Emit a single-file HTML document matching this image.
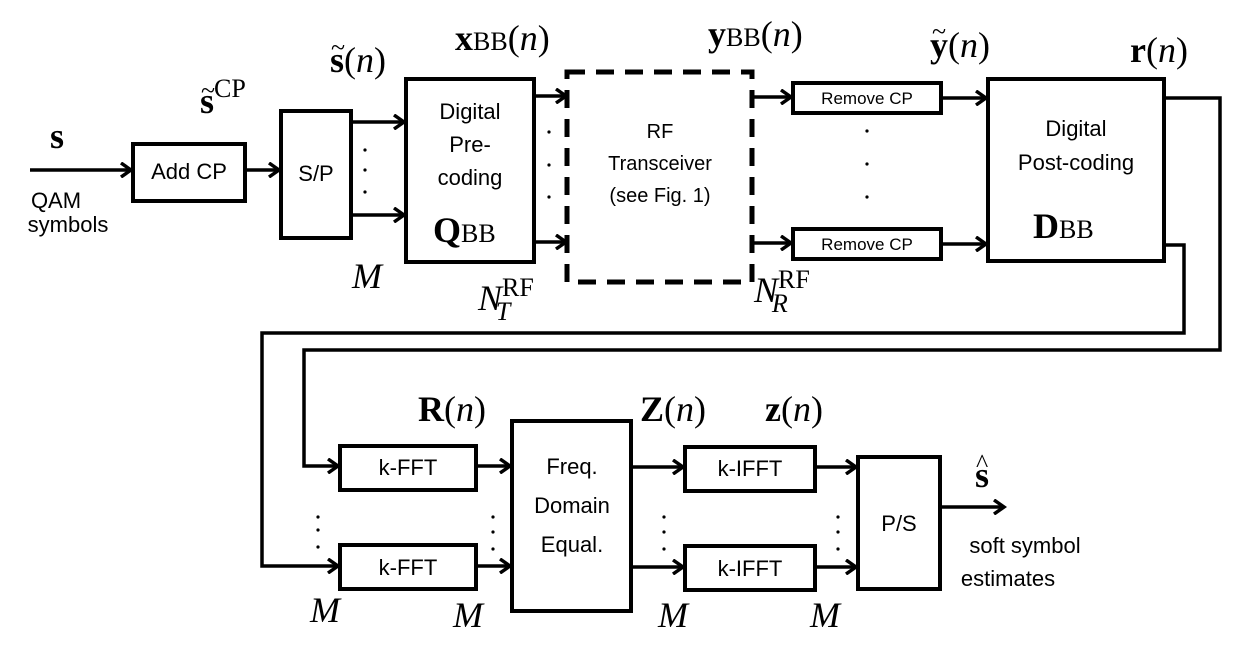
<!DOCTYPE html>
<html><head><meta charset="utf-8"><style>
html,body{margin:0;padding:0;background:#fff;}
svg{display:block;}
.b{fill:#fff;stroke:#000;stroke-width:4;}
.l{stroke:#000;stroke-width:3.5;fill:none;}
.t{font-family:"Liberation Sans",sans-serif;font-size:22px;text-anchor:middle;}
.s{font-family:"Liberation Sans",sans-serif;font-size:17px;text-anchor:middle;}
.m{font-family:"Liberation Serif",serif;font-size:36px;}
.mi{font-family:"Liberation Serif",serif;font-size:36px;font-style:italic;}
.bd{font-weight:bold;}
.sub{font-size:26px;}
.d{font-family:"Liberation Sans",sans-serif;font-size:20px;text-anchor:middle;}
.tl{font-family:"Liberation Serif",serif;font-size:26px;}
</style></head><body>
<svg width="1259" height="647" viewBox="0 0 1259 647" xmlns="http://www.w3.org/2000/svg">
<defs><marker id="a" markerWidth="14" markerHeight="16" refX="11" refY="8" orient="auto" markerUnits="userSpaceOnUse"><path d="M1,1 L11,8 L1,15" fill="none" stroke="#000" stroke-width="3.5"/></marker></defs>

<rect class="b" x="133" y="144" width="112" height="57"/>
<rect class="b" x="281" y="111" width="70" height="127"/>
<rect class="b" x="406" y="79" width="128" height="183"/>
<rect x="567" y="72" width="185" height="210" fill="none" stroke="#000" stroke-width="5" stroke-dasharray="18,11"/>
<rect class="b" x="793" y="83" width="148" height="30"/>
<rect class="b" x="793" y="229" width="148" height="30"/>
<rect class="b" x="988" y="79" width="176" height="182"/>
<rect class="b" x="340" y="446" width="136" height="44"/>
<rect class="b" x="340" y="545" width="136" height="44"/>
<rect class="b" x="512" y="421" width="119" height="190"/>
<rect class="b" x="685" y="447" width="130" height="44"/>
<rect class="b" x="685" y="546" width="130" height="44"/>
<rect class="b" x="858" y="457" width="82" height="132"/>

<g class="l">
<line x1="30" y1="170" x2="131" y2="170" marker-end="url(#a)"/>
<line x1="245" y1="170" x2="279" y2="170" marker-end="url(#a)"/>
<line x1="351" y1="122" x2="404" y2="122" marker-end="url(#a)"/>
<line x1="351" y1="215" x2="404" y2="215" marker-end="url(#a)"/>
<line x1="534" y1="96" x2="566" y2="96" marker-end="url(#a)"/>
<line x1="534" y1="242" x2="566" y2="242" marker-end="url(#a)"/>
<line x1="752" y1="97" x2="791" y2="97" marker-end="url(#a)"/>
<line x1="752" y1="243" x2="791" y2="243" marker-end="url(#a)"/>
<line x1="941" y1="98" x2="986" y2="98" marker-end="url(#a)"/>
<line x1="941" y1="244" x2="986" y2="244" marker-end="url(#a)"/>
<polyline points="1164,98 1220,98 1220,350 304,350 304,466 338,466" marker-end="url(#a)"/>
<polyline points="1164,245 1184,245 1184,333 262,333 262,566 338,566" marker-end="url(#a)"/>
<line x1="476" y1="466" x2="510" y2="466" marker-end="url(#a)"/>
<line x1="476" y1="566" x2="510" y2="566" marker-end="url(#a)"/>
<line x1="631" y1="467" x2="683" y2="467" marker-end="url(#a)"/>
<line x1="631" y1="567" x2="683" y2="567" marker-end="url(#a)"/>
<line x1="815" y1="467" x2="856" y2="467" marker-end="url(#a)"/>
<line x1="815" y1="567" x2="856" y2="567" marker-end="url(#a)"/>
<line x1="940" y1="507" x2="1004" y2="507" marker-end="url(#a)"/>
</g>

<g fill="#000">
<circle cx="365" cy="150" r="1.6"/><circle cx="365" cy="170" r="1.6"/><circle cx="365" cy="192" r="1.6"/>
<circle cx="549" cy="132" r="1.6"/><circle cx="549" cy="165" r="1.6"/><circle cx="549" cy="197" r="1.6"/>
<circle cx="867" cy="131" r="1.6"/><circle cx="867" cy="164" r="1.6"/><circle cx="867" cy="197" r="1.6"/>
<circle cx="318" cy="530" r="1.6"/><circle cx="318" cy="547" r="1.6"/><circle cx="318" cy="517" r="1.6"/>
<circle cx="493" cy="517" r="1.6"/><circle cx="493" cy="532" r="1.6"/><circle cx="493" cy="549" r="1.6"/>
<circle cx="664" cy="517" r="1.6"/><circle cx="664" cy="532" r="1.6"/><circle cx="664" cy="549" r="1.6"/>
<circle cx="838" cy="517" r="1.6"/><circle cx="838" cy="532" r="1.6"/><circle cx="838" cy="549" r="1.6"/>
</g>

<text class="t" x="189" y="179">Add CP</text>
<text class="t" x="316" y="181">S/P</text>
<text class="t" x="470" y="119">Digital</text>
<text class="t" x="470" y="152">Pre-</text>
<text class="t" x="470" y="185">coding</text>
<text class="m" x="433" y="242"><tspan class="bd">Q</tspan><tspan class="sub">BB</tspan></text>
<text class="d" x="660" y="138">RF</text>
<text class="d" x="660" y="170">Transceiver</text>
<text class="d" x="660" y="202">(see Fig. 1)</text>
<text class="s" x="867" y="104">Remove CP</text>
<text class="s" x="867" y="250">Remove CP</text>
<text class="t" x="1076" y="136">Digital</text>
<text class="t" x="1076" y="170">Post-coding</text>
<text class="m" x="1033" y="238"><tspan class="bd">D</tspan><tspan class="sub">BB</tspan></text>
<text class="t" x="408" y="475">k-FFT</text>
<text class="t" x="408" y="575">k-FFT</text>
<text class="t" x="572" y="474">Freq.</text>
<text class="t" x="572" y="513">Domain</text>
<text class="t" x="572" y="552">Equal.</text>
<text class="t" x="750" y="476">k-IFFT</text>
<text class="t" x="750" y="576">k-IFFT</text>
<text class="t" x="899" y="531">P/S</text>

<text class="m bd" x="50" y="148">s</text>
<text class="t" x="56" y="208">QAM</text>
<text class="t" x="68" y="232">symbols</text>
<text class="m" x="200" y="113"><tspan class="bd">s</tspan><tspan class="sub" dy="-16">CP</tspan></text>
<text class="tl" x="201" y="99">~</text>
<text class="m" x="330" y="72"><tspan class="bd">s</tspan>(<tspan font-style="italic">n</tspan>)</text>
<text class="tl" x="331" y="56">~</text>
<text class="m" x="455" y="50"><tspan class="bd">x</tspan><tspan class="sub">BB</tspan>(<tspan font-style="italic">n</tspan>)</text>
<text class="m" x="708" y="46"><tspan class="bd">y</tspan><tspan class="sub">BB</tspan>(<tspan font-style="italic">n</tspan>)</text>
<text class="m" x="930" y="57"><tspan class="bd">y</tspan>(<tspan font-style="italic">n</tspan>)</text>
<text class="tl" x="932" y="40">~</text>
<text class="m" x="1130" y="62"><tspan class="bd">r</tspan>(<tspan font-style="italic">n</tspan>)</text>
<text class="mi" x="352" y="288">M</text>
<text class="m" x="478" y="310"><tspan font-style="italic">N</tspan><tspan class="sub" dy="-14">RF</tspan><tspan class="sub" font-style="italic" dx="-38" dy="24">T</tspan></text>
<text class="m" x="754" y="302"><tspan font-style="italic">N</tspan><tspan class="sub" dy="-14">RF</tspan><tspan class="sub" font-style="italic" dx="-38" dy="24">R</tspan></text>
<text class="m" x="418" y="421"><tspan class="bd">R</tspan>(<tspan font-style="italic">n</tspan>)</text>
<text class="m" x="640" y="421"><tspan class="bd">Z</tspan>(<tspan font-style="italic">n</tspan>)</text>
<text class="m" x="765" y="421"><tspan class="bd">z</tspan>(<tspan font-style="italic">n</tspan>)</text>
<text class="m bd" x="975" y="487">s</text>
<text class="tl" x="976" y="472">^</text>
<text class="t" x="1025" y="553">soft symbol</text>
<text class="t" x="1008" y="586">estimates</text>
<text class="mi" x="310" y="622">M</text>
<text class="mi" x="453" y="627">M</text>
<text class="mi" x="658" y="627">M</text>
<text class="mi" x="810" y="627">M</text>
</svg>
</body></html>
